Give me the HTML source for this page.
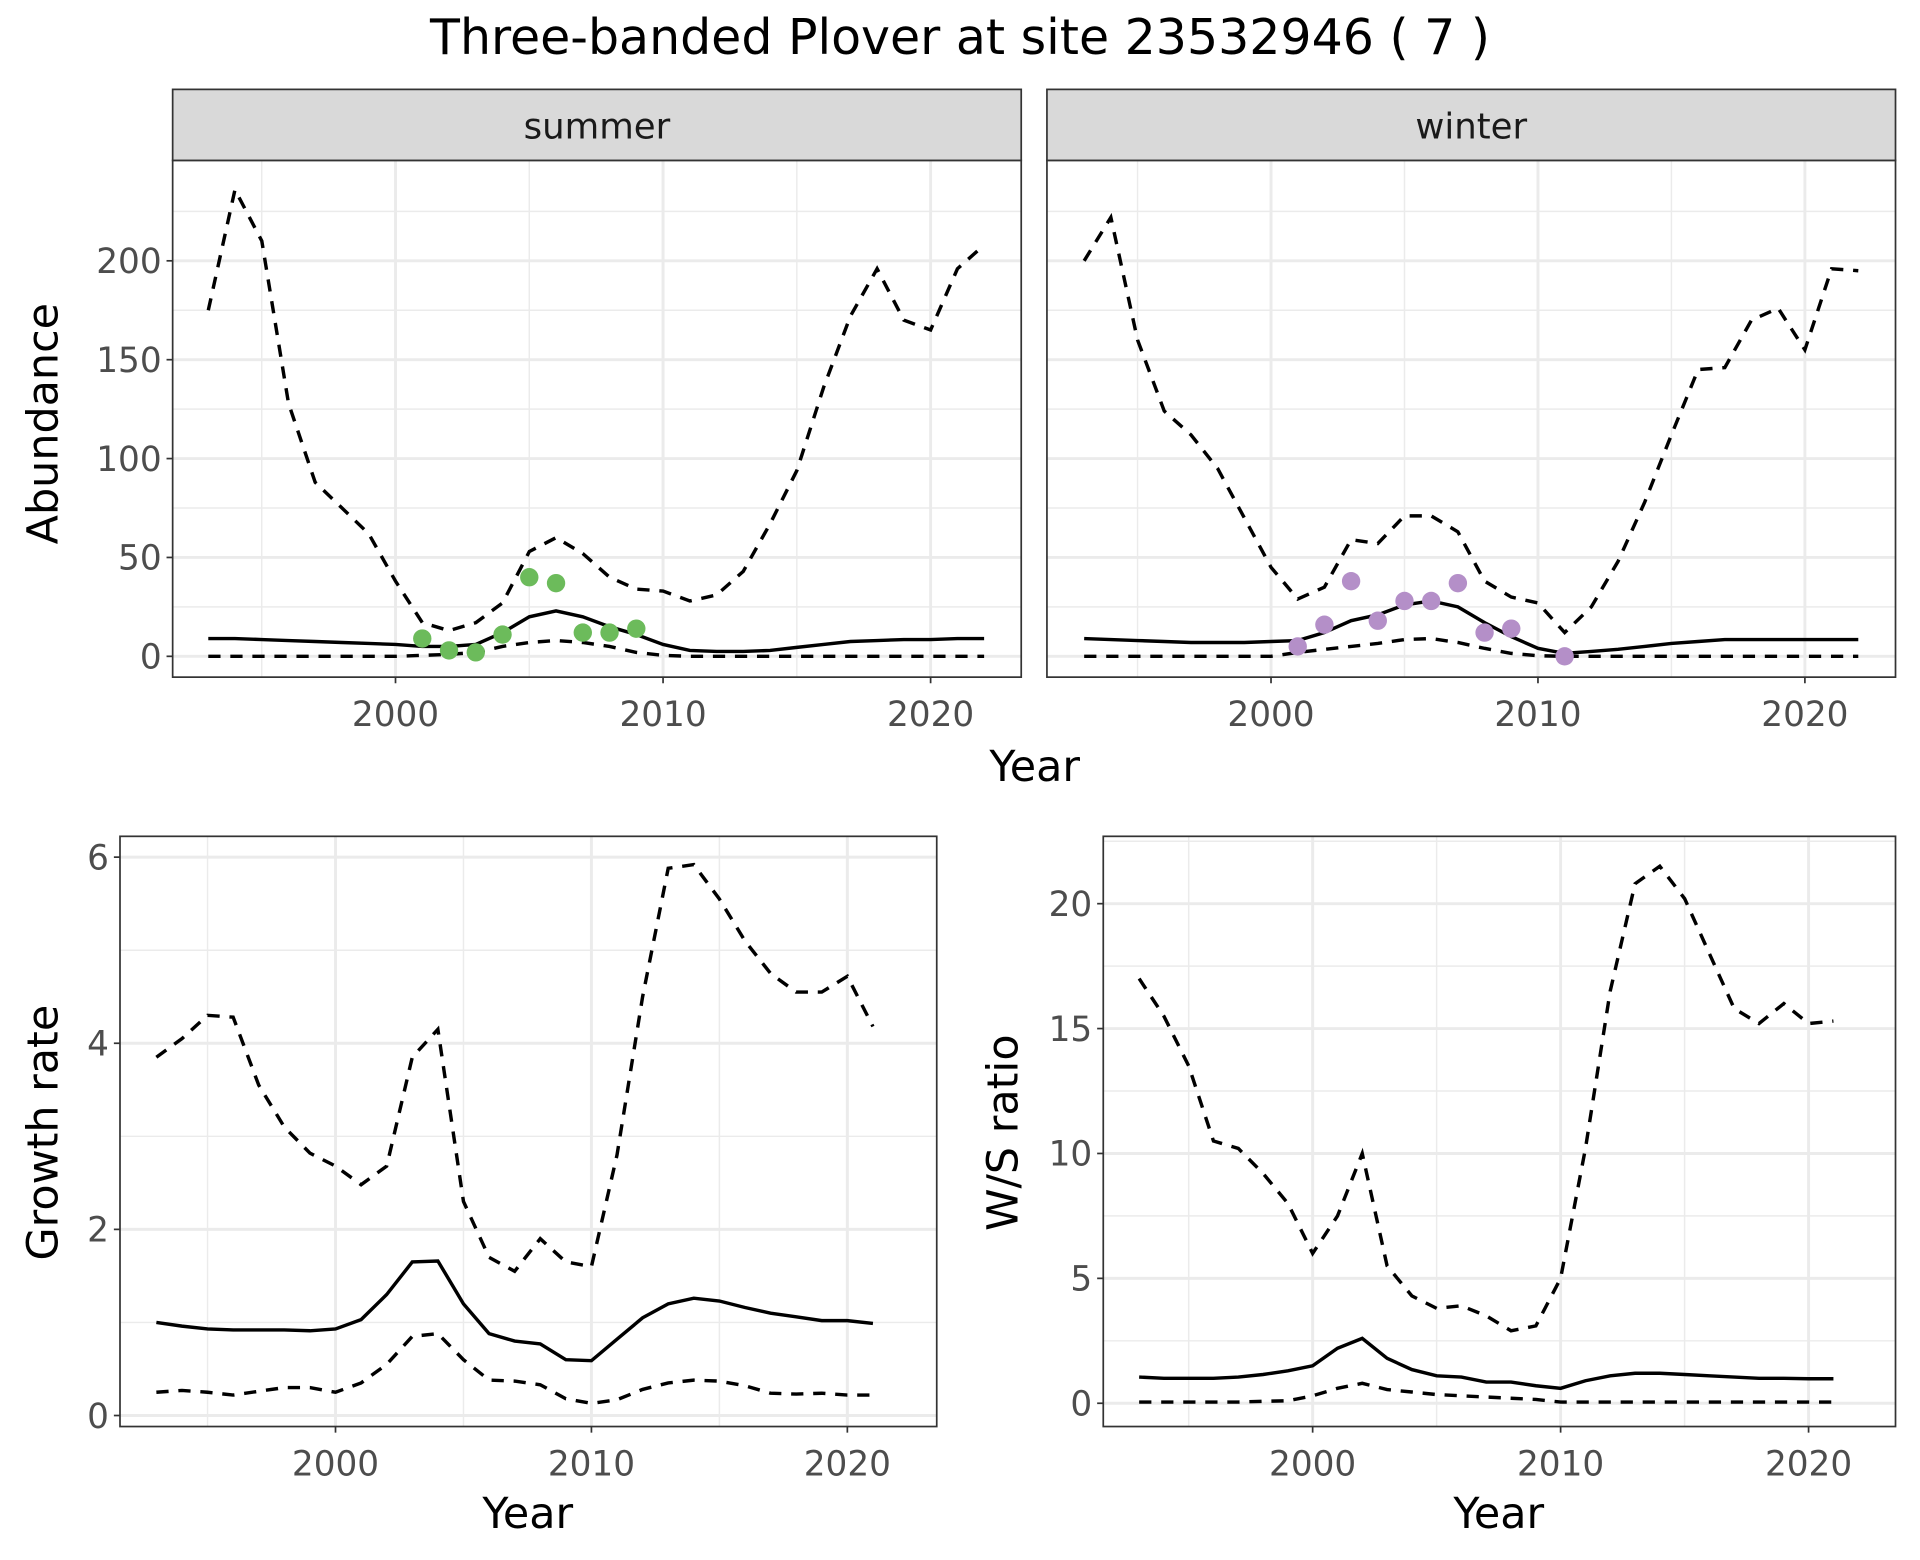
<!DOCTYPE html>
<html><head><meta charset="utf-8"><style>
html,body{margin:0;padding:0;background:#fff}
svg{display:block;font-family:"DejaVu Sans","Liberation Sans",sans-serif}
</style></head><body>
<svg id="chart" width="1920" height="1560" viewBox="0 0 1568 1274" xmlns="http://www.w3.org/2000/svg">
<rect width="1568" height="1274" fill="#fff"/>
<text x="784" y="44" font-size="40" text-anchor="middle" fill="#000">Three-banded Plover at site 23532946 ( 7 )</text>
</svg>
<script>
const yearsA = [1993,1994,1995,1996,1997,1998,1999,2000,2001,2002,2003,2004,2005,2006,2007,2008,2009,2010,2011,2012,2013,2014,2015,2016,2017,2018,2019,2020,2021,2022];
const summerUpper = [175,236,210,128,88,75,62,38,17,13,17,27,53,60,52,40,34,33,28,31,43,67,94,136,172,196,170,165,196,208];
const summerMid = [9,9,8.5,8,7.5,7,6.5,6,5,5,6,12,20,23,20,15,11,6,3,2.5,2.5,3,4.5,6,7.5,8,8.5,8.5,9,9];
const summerLow = [0,0,0,0,0,0,0,0,0.5,1,2,5,7,8,7,5,2,0.5,0,0,0,0,0,0,0,0,0,0,0,0];
const summerPtYears = [2001,2002,2003,2004,2005,2006,2007,2008,2009];
const summerPtVals = [9,3,2,11,40,37,12,12,14];
const winterUpper = [200,222,160,124,112,95,70,45,29,35,59,57,71,71,63,38,30,27,12,25,48,78,112,145,146,170,176,155,196,195];
const winterMid = [9,8.5,8,7.5,7,7,7,7.5,8,12,18,21,26,28,25,17,10,4,1.5,2.5,3.5,5,6.5,7.5,8.5,8.5,8.5,8.5,8.5,8.5];
const winterLow = [0,0,0,0,0,0,0,0,2,3.5,5,6.5,8.5,9,7,4,1.5,0.3,0,0,0,0,0,0,0,0,0,0,0,0];
const winterPtYears = [2001,2002,2003,2004,2005,2006,2007,2008,2009,2011];
const winterPtVals = [5,16,38,18,28,28,37,12,14,0];
const yearsB = [1993,1994,1995,1996,1997,1998,1999,2000,2001,2002,2003,2004,2005,2006,2007,2008,2009,2010,2011,2012,2013,2014,2015,2016,2017,2018,2019,2020,2021];
const growthUpper = [3.85,4.05,4.3,4.28,3.55,3.1,2.82,2.68,2.48,2.68,3.85,4.15,2.3,1.7,1.55,1.9,1.65,1.6,2.8,4.5,5.88,5.92,5.55,5.1,4.75,4.55,4.55,4.72,4.18];
const growthMid = [1.0,0.96,0.93,0.92,0.92,0.92,0.91,0.93,1.03,1.3,1.65,1.66,1.2,0.88,0.8,0.77,0.6,0.59,0.82,1.05,1.2,1.26,1.23,1.16,1.1,1.06,1.02,1.02,0.99];
const growthLow = [0.25,0.27,0.25,0.22,0.26,0.3,0.3,0.25,0.35,0.55,0.85,0.88,0.6,0.38,0.37,0.33,0.18,0.13,0.17,0.28,0.35,0.38,0.37,0.32,0.24,0.23,0.24,0.22,0.22];
const wsUpper = [17,15.5,13.5,10.5,10.2,9.2,8,6,7.5,10,5.5,4.3,3.8,3.9,3.5,2.9,3.1,5,10.2,16.5,20.8,21.5,20.2,18,15.8,15.2,16,15.2,15.3];
const wsMid = [1.05,1.0,1.0,1.0,1.05,1.15,1.3,1.5,2.2,2.6,1.8,1.35,1.1,1.05,0.85,0.85,0.7,0.6,0.9,1.1,1.2,1.2,1.15,1.1,1.05,1.0,1.0,0.98,0.98];
const wsLow = [0.05,0.05,0.05,0.05,0.05,0.08,0.1,0.3,0.6,0.8,0.55,0.45,0.35,0.3,0.25,0.2,0.15,0.05,0.05,0.05,0.05,0.05,0.05,0.05,0.05,0.05,0.05,0.05,0.05];
const xTicks = [2000,2010,2020];
const xMinor = [1995,2005,2015];
const abundTicks = [0,50,100,150,200];
const growthTicks = [0,2,4,6];
const wsTicks = [0,5,10,15,20];

const NS = "http://www.w3.org/2000/svg";
const svg = document.getElementById('chart');
function mk(tag, attrs, parent){ const e=document.createElementNS(NS,tag); for(const k in attrs) e.setAttribute(k,attrs[k]); (parent||svg).appendChild(e); return e; }

function panel(p){
  const g = mk('g',{});
  
  
  const xs = v => p.x0 + (v - p.xr[0])/(p.xr[1]-p.xr[0])*(p.x1-p.x0);
  const ys = v => p.y0 - (v - p.yr[0])/(p.yr[1]-p.yr[0])*(p.y0-p.y1);
  xMinor.forEach(v=>{ mk('line',{x1:xs(v),x2:xs(v),y1:p.top,y2:p.bot,stroke:'#ebebeb','stroke-width':1.2},g); });
  for(let i=0;i<p.ticks.length-1;i++){ const m=(p.ticks[i]+p.ticks[i+1])/2; mk('line',{x1:p.left,x2:p.right,y1:ys(m),y2:ys(m),stroke:'#ebebeb','stroke-width':1.2},g); }
  const last=p.ticks[p.ticks.length-1], step=p.ticks[1]-p.ticks[0];
  if(ys(last+step/2)>p.top) mk('line',{x1:p.left,x2:p.right,y1:ys(last+step/2),y2:ys(last+step/2),stroke:'#ebebeb','stroke-width':1.2},g);
  xTicks.forEach(v=>{ mk('line',{x1:xs(v),x2:xs(v),y1:p.top,y2:p.bot,stroke:'#ebebeb','stroke-width':2.4},g); });
  p.ticks.forEach(v=>{ mk('line',{x1:p.left,x2:p.right,y1:ys(v),y2:ys(v),stroke:'#ebebeb','stroke-width':2.4},g); });
  const path=(xsArr,vals)=>vals.map((v,i)=>(i?'L':'M')+xs(xsArr[i]).toFixed(1)+','+ys(v).toFixed(1)).join(' ');
  const up=mk('path',{d:path(p.years,p.upper),fill:'none',stroke:'#000','stroke-width':2.8,'stroke-dasharray':'10,8'},g);
  
  
  const lo=mk('path',{d:path(p.years,p.low),fill:'none',stroke:'#000','stroke-width':2.8,'stroke-dasharray':'10,8'},g);
  
  
  const mid=mk('path',{d:path(p.years,p.mid),fill:'none',stroke:'#000','stroke-width':2.8},g);
  
  
  if(p.ptYears){ p.ptYears.forEach((yr,i)=>{ const c=mk('circle',{cx:xs(yr),cy:ys(p.ptVals[i]),r:7.5,fill:p.ptColor},g);
    
     }); }
  mk('rect',{x:p.left,y:p.top,width:p.right-p.left,height:p.bot-p.top,fill:'none',stroke:'#333','stroke-width':1.4},g);
  xTicks.forEach(v=>{ mk('line',{x1:xs(v),x2:xs(v),y1:p.bot,y2:p.bot+5,stroke:'#333','stroke-width':1.4},g);
    const t=mk('text',{x:xs(v),y:p.bot+40,'font-size':28,'text-anchor':'middle',fill:'#4d4d4d'},g); t.textContent=v;
      });
  if(p.showY){ p.ticks.forEach(v=>{ mk('line',{x1:p.left-5,x2:p.left,y1:ys(v),y2:ys(v),stroke:'#333','stroke-width':1.4},g);
    const t=mk('text',{x:p.left-9,y:ys(v)+10,'font-size':28,'text-anchor':'end',fill:'#4d4d4d'},g); t.textContent=v;
      }); }
  if(p.strip){ const s=mk('rect',{x:p.left,y:p.top-58,width:p.right-p.left,height:58,fill:'#d9d9d9',stroke:'#333','stroke-width':1.4},g);
     
    const t=mk('text',{x:(p.left+p.right)/2,y:p.top-18,'font-size':29,'text-anchor':'middle',fill:'#1a1a1a'},g); t.textContent=p.strip;
      }
}
function label(txt,x,y,rot,name){ const t=mk('text',{x:x,y:y,'font-size':35,'text-anchor':'middle',fill:'#000'}); if(rot) t.setAttribute('transform','rotate(-90 '+x+' '+y+')'); t.textContent=txt;
    }

panel({name:'summer-panel',strip:'summer',showY:true,left:141,right:834,top:131,bot:553,x0:323,x1:760,xr:[2000,2020],y0:536,y1:213,yr:[0,200],ticks:abundTicks,years:yearsA,upper:summerUpper,mid:summerMid,low:summerLow,ptYears:summerPtYears,ptVals:summerPtVals,ptColor:'#6cbb5b'});
panel({name:'winter-panel',strip:'winter',showY:false,left:855,right:1548,top:131,bot:553,x0:1038,x1:1474,xr:[2000,2020],y0:536,y1:213,yr:[0,200],ticks:abundTicks,years:yearsA,upper:winterUpper,mid:winterMid,low:winterLow,ptYears:winterPtYears,ptVals:winterPtVals,ptColor:'#b48fc8'});
panel({name:'growth-panel',showY:true,left:98,right:765,top:683,bot:1165,x0:274,x1:692,xr:[2000,2020],y0:1156,y1:700,yr:[0,6],ticks:growthTicks,years:yearsB,upper:growthUpper,mid:growthMid,low:growthLow});
panel({name:'ws-ratio-panel',showY:true,left:901,right:1548,top:683,bot:1165,x0:1072,x1:1477,xr:[2000,2020],y0:1146,y1:738,yr:[0,20],ticks:wsTicks,years:yearsB,upper:wsUpper,mid:wsMid,low:wsLow});

label('Abundance',47,346,true,'y-axis-title-abundance');
label('Year',845,638,false,'x-axis-title-top');
label('Growth rate',47,925,true,'y-axis-title-growth');
label('Year',431,1248,false,'x-axis-title-growth');
label('W/S ratio',831,925,true,'y-axis-title-ws');
label('Year',1224,1248,false,'x-axis-title-ws');
</script>
</body></html>
